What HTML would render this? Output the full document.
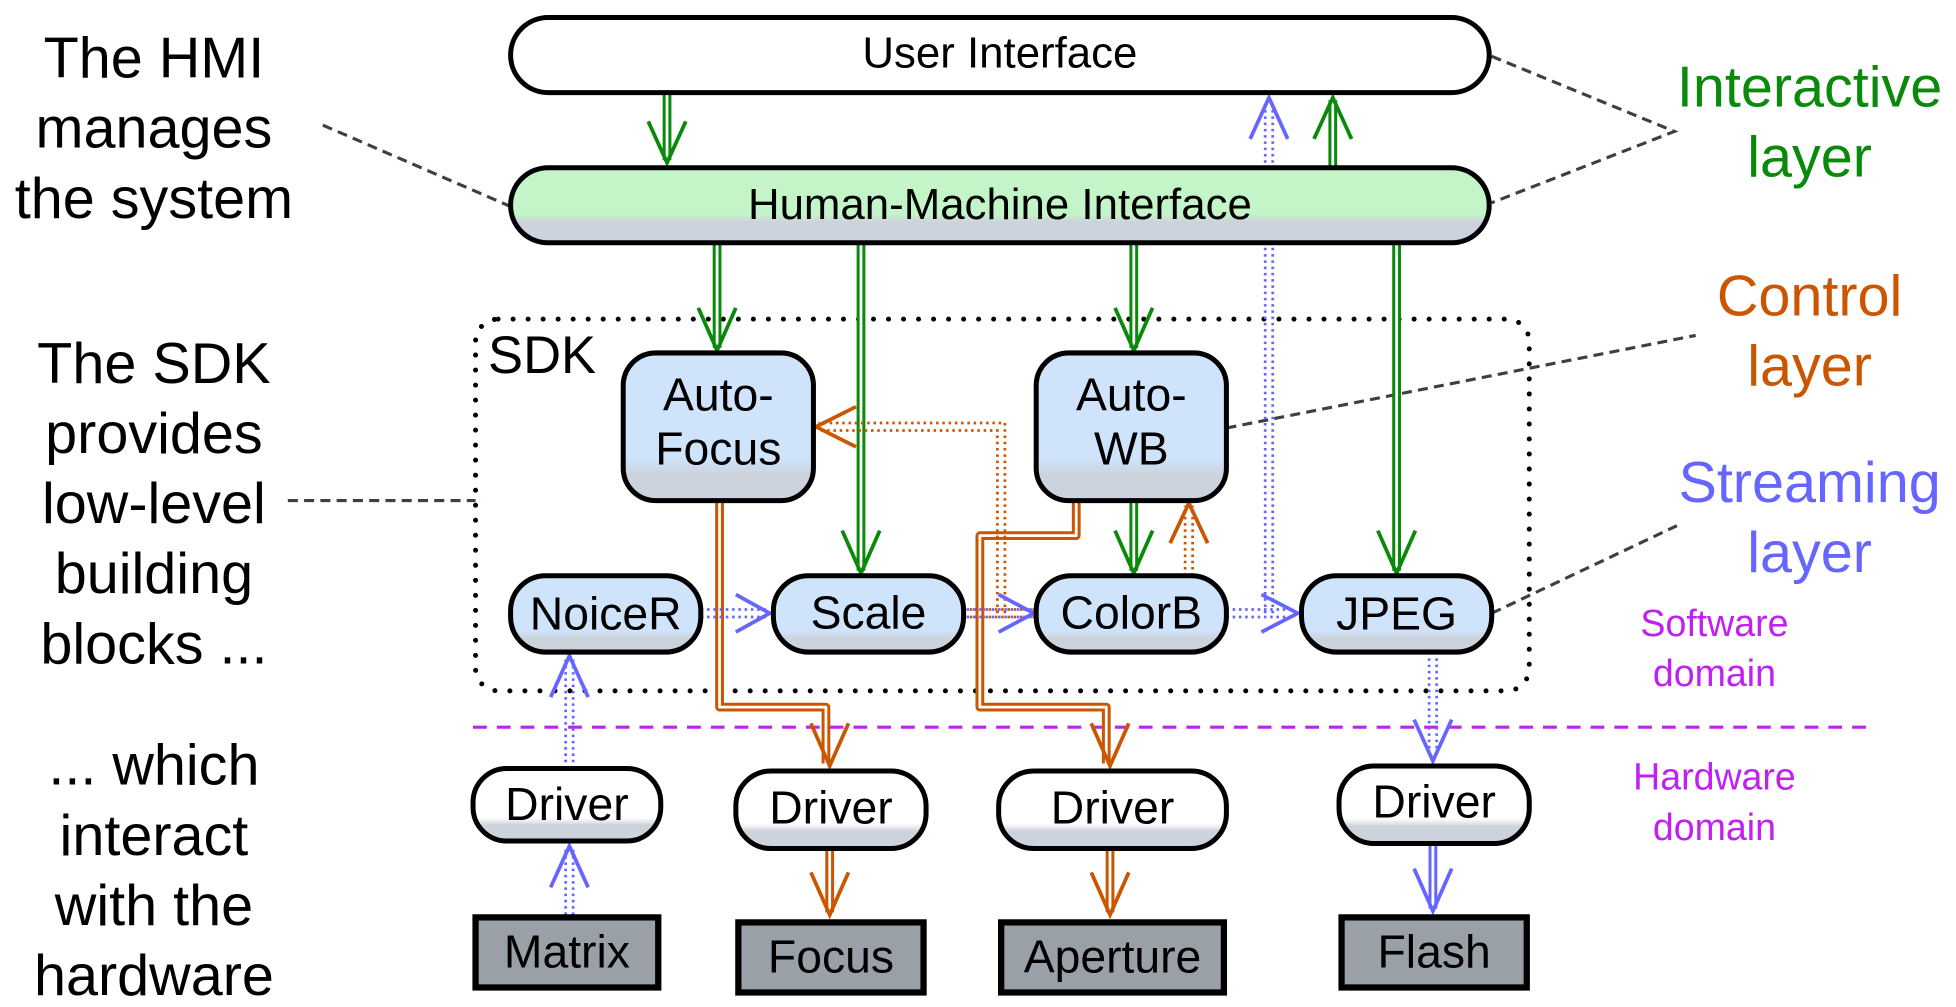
<!DOCTYPE html>
<html><head><meta charset="utf-8"><style>
html,body{margin:0;padding:0;background:#fff}
svg{display:block}
text{font-family:"Liberation Sans",sans-serif}
</style></head><body>
<svg width="1956" height="1007" viewBox="0 0 1563 804.6" preserveAspectRatio="none" xmlns="http://www.w3.org/2000/svg">
<defs>
<linearGradient id="gw" x1="0" y1="0" x2="0" y2="1"><stop offset="0.68" stop-color="#fff"/><stop offset="0.78" stop-color="#cdd3dc"/><stop offset="1" stop-color="#cdd3dc"/></linearGradient>
<linearGradient id="gg" x1="0" y1="0" x2="0" y2="1"><stop offset="0.62" stop-color="#c3f5c8"/><stop offset="0.72" stop-color="#cdd3dc"/><stop offset="1" stop-color="#cdd3dc"/></linearGradient>
<linearGradient id="gb" x1="0" y1="0" x2="0" y2="1"><stop offset="0.72" stop-color="#cfe3fb"/><stop offset="0.82" stop-color="#cdd3dc"/><stop offset="1" stop-color="#cdd3dc"/></linearGradient>
</defs>

<g stroke="#3a4048" stroke-width="2.5" stroke-dasharray="8,5" fill="none">
<path d="M258,100 L408,165"/>
<path d="M1192,45 L1338,105 L1192,162"/>
<path d="M980,342 L1355,268"/>
<path d="M1192,490 L1340,420"/>
<path d="M230,400 L380,400"/>
</g>
<rect x="380" y="255" width="842" height="297" rx="18" fill="none" stroke="#000" stroke-width="4" stroke-dasharray="0,12" stroke-linecap="round"/>
<text x="390" y="298" font-size="42">SDK</text>
<line x1="378" y1="581" x2="1492" y2="581" stroke="#c020f0" stroke-width="2.5" stroke-dasharray="11,8"/>

<g fill="none" stroke-linejoin="round">
<g stroke="#0a8a0a">
<path d="M533,74 V128 M1065,134 V80 M573,194 V278 M688,194 V456 M906,194 V278 M1116,194 V456 M906,400 V456" stroke-width="7"/>
</g>
<g stroke="#cc5500">
<path d="M575,400 V565 H660 V610 M860,400 V428 H783 V565 H884 V610 M663,678 V729 M887,678 V729" stroke-width="7"/>
</g>
<g stroke="#6666ff"><path d="M1145,674 V726" stroke-width="7"/></g>
<path d="M533,74 V128 M1065,134 V80 M573,194 V278 M688,194 V456 M906,194 V278 M1116,194 V456 M906,400 V456 M575,400 V565 H660 V610 M860,400 V428 H783 V565 H884 V610 M663,678 V729 M887,678 V729 M1145,674 V726" stroke="#fff" stroke-width="2.2"/>
</g>
<g fill="none" stroke-width="2.2" stroke-dasharray="2,3">
<g stroke="#cc5500">
<path d="M797,490 V344 H654 M803,490 V338 H654"/>
<path d="M947,460 V404 M953,460 V404"/>
<path d="M770,487 H826 M770,493 H826"/>
</g>
<g stroke="#6666ff">
<path d="M1011,490 V80 M1017,490 V80"/>
<path d="M560,487 H613 M560,493 H613"/>
<path d="M770,487 H826 M770,493 H826" stroke-dashoffset="2.5"/>
<path d="M980,487 H1035 M980,493 H1035"/>
<path d="M452,614 V526 M458,614 V526"/>
<path d="M452,731 V678 M458,731 V678"/>
<path d="M1142,521 V606 M1148,521 V606"/>
</g>
</g>
<g fill="none" stroke-width="3" stroke-linejoin="miter">
<g stroke="#0a8a0a">
<polyline points="518,97 533,130 548,97"/>
<polyline points="1050,111 1065,78 1080,111"/>
<polyline points="558,246 573,280 588,246"/>
<polyline points="673,424 688,458 703,424"/>
<polyline points="891,246 906,280 921,246"/>
<polyline points="1101,424 1116,458 1131,424"/>
<polyline points="891,424 906,458 921,424"/>
</g>
<g stroke="#cc5500">
<polyline points="684,325 652,341 684,357"/>
<polyline points="935,434 950,402 965,434"/>
<polyline points="648,578 663,612 678,578"/>
<polyline points="872,578 887,612 902,578"/>
<polyline points="648,697 663,731 678,697"/>
<polyline points="872,697 887,731 902,697"/>
</g>
<g stroke="#6666ff">
<polyline points="999,111 1014,78 1029,111"/>
<polyline points="588,475 615,490 588,505"/>
<polyline points="798,475 826,490 798,505"/>
<polyline points="1008,475 1037,490 1008,505"/>
<polyline points="440,557 455,524 470,557"/>
<polyline points="440,709 455,676 470,709"/>
<polyline points="1130,575 1145,608 1160,575"/>
<polyline points="1130,694 1145,728 1160,694"/>
</g>
</g>

<g stroke="#000" stroke-width="4">
<rect x="408" y="14" width="782" height="60" rx="30" style="fill:#fff"/>
<rect x="408" y="134" width="782" height="60" rx="30" fill="url(#gg)"/>
<rect x="498" y="282" width="152" height="118" rx="26" fill="url(#gb)"/>
<rect x="828" y="282" width="152" height="118" rx="26" fill="url(#gb)"/>
<rect x="408" y="460" width="152" height="61" rx="28" fill="url(#gb)"/>
<rect x="618" y="460" width="152" height="61" rx="28" fill="url(#gb)"/>
<rect x="828" y="460" width="152" height="61" rx="28" fill="url(#gb)"/>
<rect x="1040" y="460" width="152" height="61" rx="28" fill="url(#gb)"/>
<rect x="378" y="614" width="150" height="58" rx="27" fill="url(#gw)"/>
<rect x="588" y="616" width="152" height="62" rx="28" fill="url(#gw)"/>
<rect x="798" y="616" width="182" height="62" rx="28" fill="url(#gw)"/>
<rect x="1070" y="612" width="152" height="62" rx="28" fill="url(#gw)"/>
<g fill="#9aa0a8" stroke-width="5">
<rect x="380" y="733" width="146" height="56"/>
<rect x="590" y="737" width="148" height="56"/>
<rect x="800" y="737" width="178" height="56"/>
<rect x="1072" y="733" width="148" height="56"/>
</g>
</g>

<g font-size="37" text-anchor="middle" fill="#000">
<text x="799" y="54" font-size="35">User Interface</text>
<text x="799" y="175" font-size="35">Human-Machine Interface</text>
<text x="574" y="328">Auto-</text><text x="574" y="371">Focus</text>
<text x="904" y="328">Auto-</text><text x="904" y="371">WB</text>
<text x="484" y="503">NoiceR</text>
<text x="694" y="502">Scale</text>
<text x="904" y="502">ColorB</text>
<text x="1116" y="503">JPEG</text>
<text x="453" y="655">Driver</text>
<text x="664" y="658">Driver</text>
<text x="889" y="658">Driver</text>
<text x="1146" y="653">Driver</text>
<text x="453" y="773">Matrix</text>
<text x="664" y="777">Focus</text>
<text x="889" y="777">Aperture</text>
<text x="1146" y="773">Flash</text>
</g>

<g font-size="46" text-anchor="middle" fill="#000">
<text x="123" y="62">The HMI</text>
<text x="123" y="118">manages</text>
<text x="123" y="174">the system</text>
<text x="123" y="306">The SDK</text>
<text x="123" y="362">provides</text>
<text x="123" y="418">low-level</text>
<text x="123" y="474">building</text>
<text x="123" y="530">blocks ...</text>
<text x="123" y="627">... which</text>
<text x="123" y="683">interact</text>
<text x="123" y="739">with the</text>
<text x="123" y="795">hardware</text>
<text x="1446" y="85" fill="#0a8a0a">Interactive</text>
<text x="1446" y="141" fill="#0a8a0a">layer</text>
<text x="1446" y="252" fill="#cc5500">Control</text>
<text x="1446" y="308" fill="#cc5500">layer</text>
<text x="1446" y="401" fill="#6666ff">Streaming</text>
<text x="1446" y="457" fill="#6666ff">layer</text>
</g>
<g font-size="30" text-anchor="middle" fill="#c020f0">
<text x="1370" y="508">Software</text>
<text x="1370" y="548">domain</text>
<text x="1370" y="631">Hardware</text>
<text x="1370" y="671">domain</text>
</g>
</svg>
</body></html>
